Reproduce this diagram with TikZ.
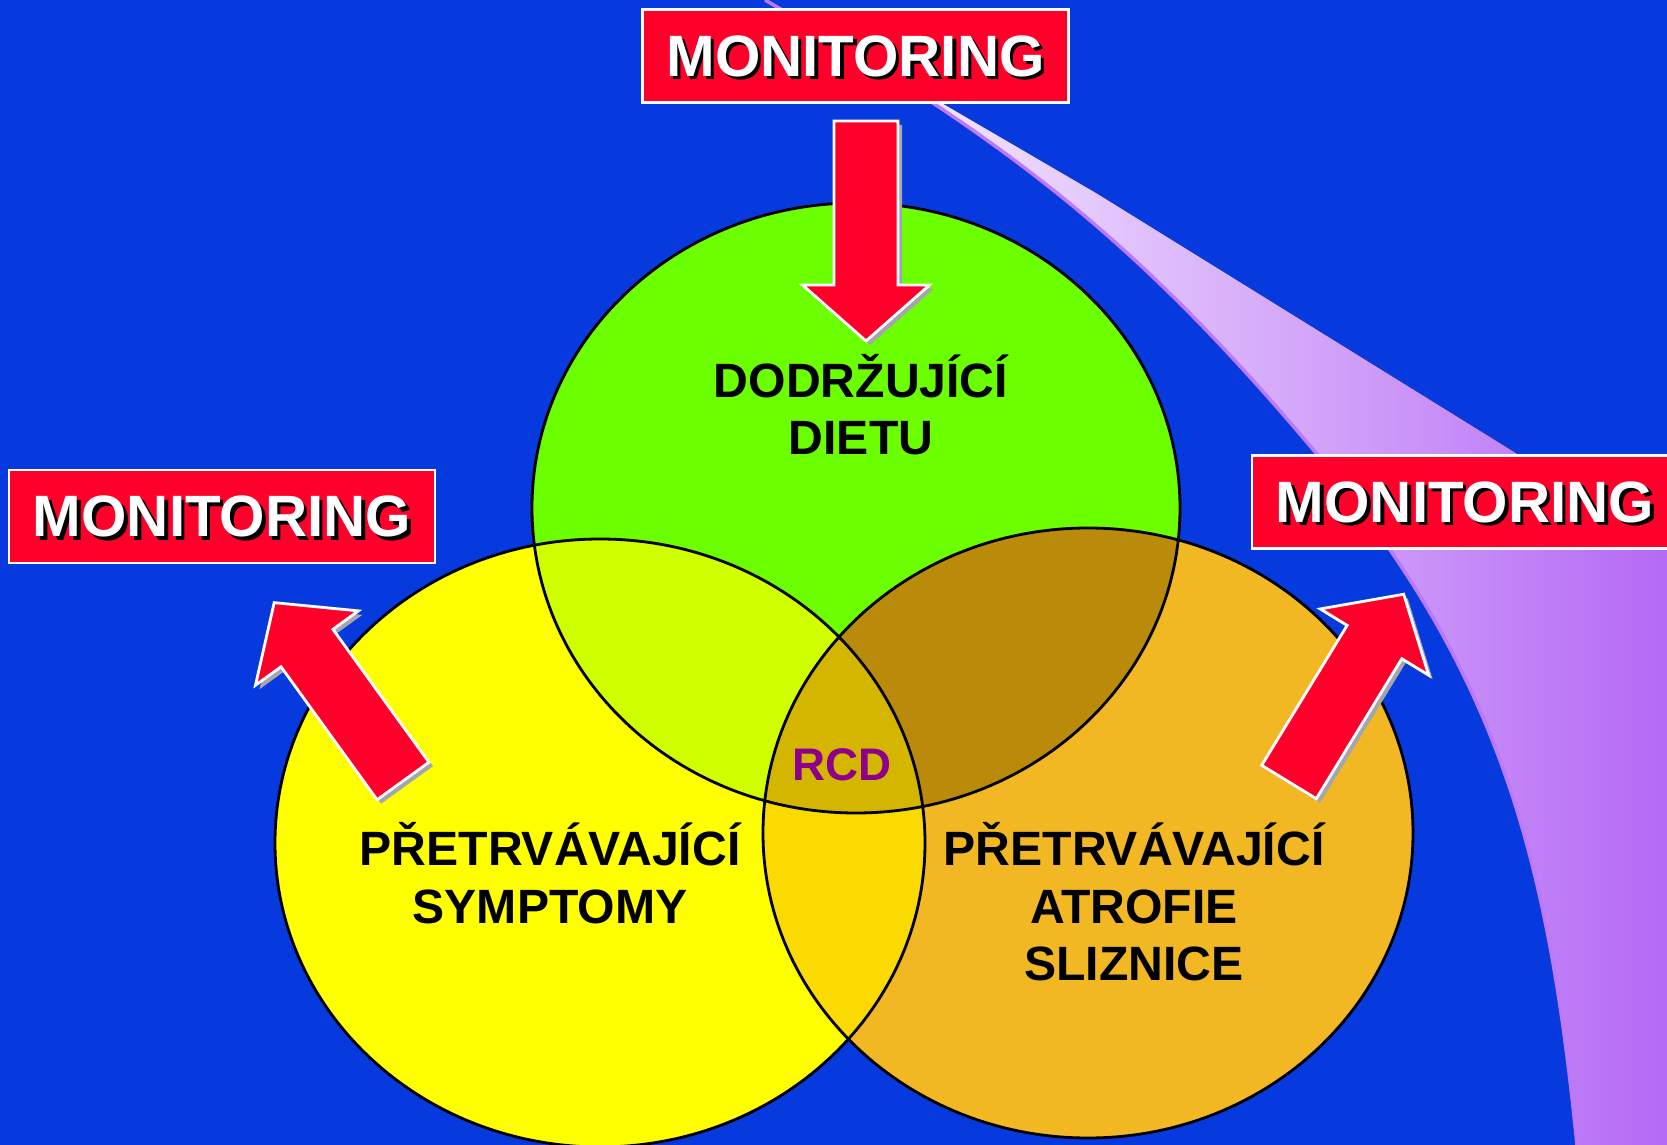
\documentclass[tikz,border=0pt]{standalone}
\usepackage{fontspec}
\setmainfont{Liberation Sans}
\usetikzlibrary{positioning}

\definecolor{bgblue}{RGB}{6,58,222}
\definecolor{monred}{RGB}{255,0,42}
\definecolor{dietgreen}{RGB}{108,255,0}
\definecolor{sympyellow}{RGB}{255,255,0}
\definecolor{atrorange}{RGB}{242,184,36}
\definecolor{greenyellow}{RGB}{208,255,0}
\definecolor{greenorange}{RGB}{186,138,10}
\definecolor{yelloworange}{RGB}{250,218,0}
\definecolor{rcdcore}{RGB}{212,182,0}
\definecolor{rcdpurple}{RGB}{140,0,140}
\definecolor{swooshpurple}{RGB}{178,100,245}
\definecolor{swooshedge}{RGB}{190,120,250}
\definecolor{arrowgray}{RGB}{165,165,175}

% white letters with a dark drop shadow
\newcommand{\shadowed}[1]{\rlap{\kern1pt\raisebox{-1pt}[0pt][0pt]{\color{black}#1}}#1}
% block arrow, tail at the origin, pointing along the x axis
\newcommand{\arrowpath}{(0,-0.32) -- (1.64,-0.32) -- (1.64,-0.635) -- (2.2,0) -- (1.64,0.635) -- (1.64,0.32) -- (0,0.32) -- cycle}
\newcommand{\dietpath}{(dietC) ellipse [x radius=3.24cm, y radius=3.05cm]}
\newcommand{\symppath}{(sympC) ellipse [x radius=3.25cm, y radius=3.04cm]}
\newcommand{\atrpath}{(atrC) ellipse [x radius=3.25cm, y radius=3.05cm]}
% inner edge of the swoosh, bottom to top
\newcommand{\swooshcurve}{(15.79,-0.2) to[out=95.5, in=-50] (13.16,6.92) to[out=130, in=-30] (7.65,11.45)}

\tikzset{
  monbox/.style={draw=white, line width=0.7pt, fill=monred, minimum width=4.26cm, minimum height=0.93cm, inner sep=0pt, text=white, font=\fontsize{16.6}{20}\selectfont\bfseries},
  vennlabel/.style={align=center, inner sep=0pt, text=black, font=\fontsize{13.7}{16.4}\selectfont\bfseries},
  monarrow/.pic={
    \fill[arrowgray, shift={(0.04,-0.04)}, rotate=#1] \arrowpath;
    \filldraw[fill=monred, draw=white, line width=0.8pt, rotate=#1] \arrowpath;
  }
}

\begin{document}
\begin{tikzpicture}
    \useasboundingbox (0,0) rectangle (16.67,11.45);
    \clip (0,0) rectangle (16.67,11.45);
    \fill[bgblue] (0,0) rectangle (16.67,11.45);

    % swoosh
    \fill[left color=white, right color=swooshpurple] \swooshcurve -- (10.96,9.52) -- (15.19,6.90) -- (17,6.5) -- (17,-0.2) -- cycle;
    \draw[swooshedge, line width=1pt] \swooshcurve;

    % circles
    \coordinate (dietC) at (8.56,6.37);
    \coordinate (sympC) at (6.00,3.02);
    \coordinate (atrC) at (10.88,3.12);
    \fill[dietgreen] \dietpath;
    \fill[sympyellow] \symppath;
    \fill[atrorange] \atrpath;
    \begin{scope}
        \clip \dietpath;
        \fill[greenyellow] \symppath;
        \fill[greenorange] \atrpath;
    \end{scope}
    \begin{scope}
        \clip \symppath;
        \fill[yelloworange] \atrpath;
        \clip \dietpath;
        \fill[rcdcore] \atrpath;
    \end{scope}
    \draw[black, line width=0.8pt] \dietpath \symppath \atrpath;

    % arrows
    \coordinate (topTail) at (8.66,10.24);
    \coordinate (leftTail) at (4.03,3.64);
    \coordinate (rightTail) at (12.89,3.63);
    \pic at (topTail) {monarrow=-90};
    \pic at (leftTail) {monarrow=125.84};
    \pic at (rightTail) {monarrow=58.58};

    % boxes
    \node (monTop) [monbox] at (8.555,10.89) {\shadowed{MONITORING}};
    \node (monLeft) [monbox] at (2.22,6.285) {\shadowed{MONITORING}};
    \node (monRight) [monbox] at (14.65,6.43) {\shadowed{MONITORING}};

    % labels
    \node (diet) [vennlabel] at (8.61,7.405) {DODRŽUJÍCÍ\\DIETU};
    \node (symp) [vennlabel] at (5.50,2.72) {PŘETRVÁVAJÍCÍ\\SYMPTOMY};
    \node (atr) [vennlabel] at (11.34,2.43) {PŘETRVÁVAJÍCÍ\\ATROFIE\\SLIZNICE};
    \node (rcd) [vennlabel, text=rcdpurple, font=\fontsize{13}{16}\selectfont\bfseries] at (8.42,3.80) {RCD};
\end{tikzpicture}
\end{document}
